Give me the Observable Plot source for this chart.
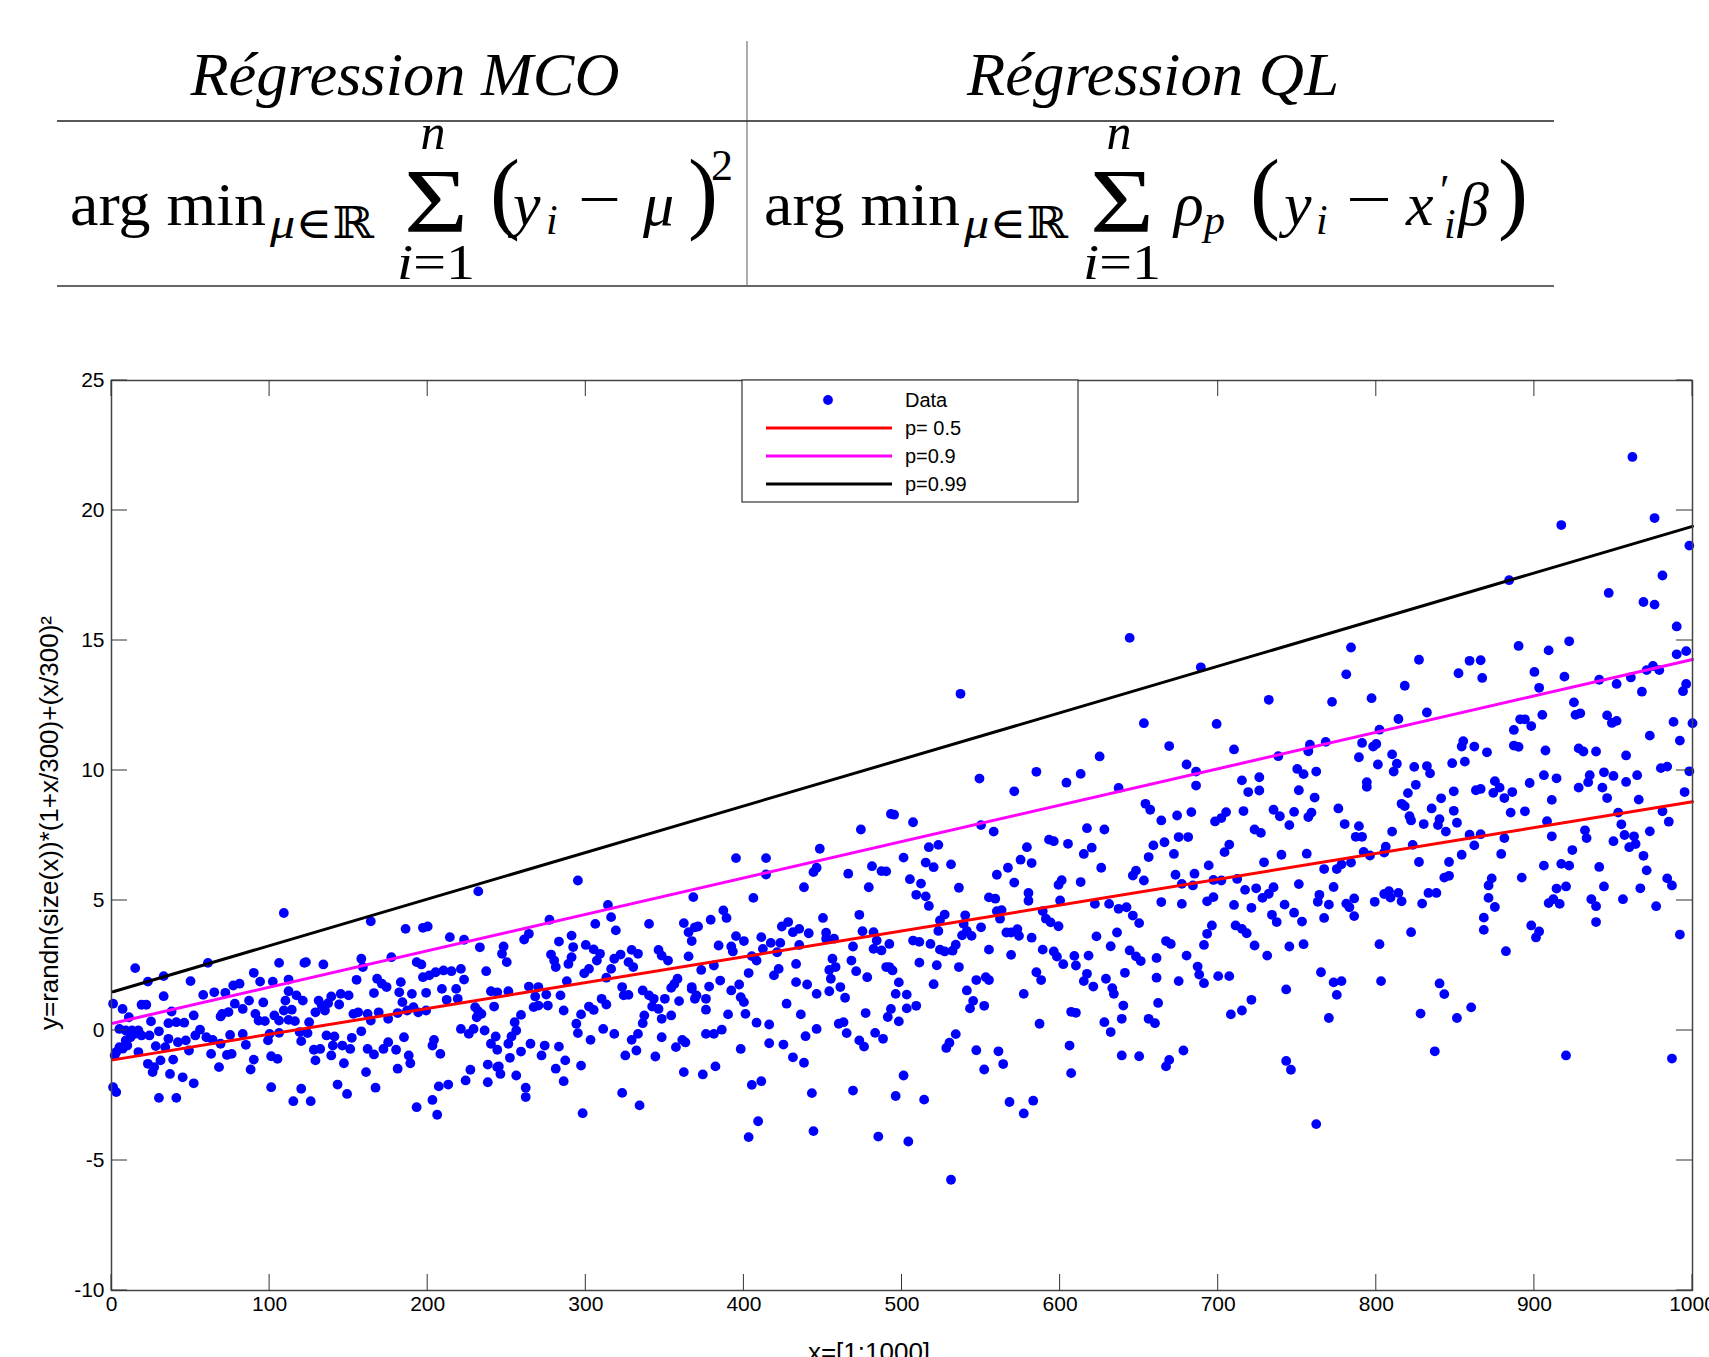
<!DOCTYPE html>
<html><head><meta charset="utf-8">
<script src="https://cdn.jsdelivr.net/npm/d3@7"></script>
<script src="https://cdn.jsdelivr.net/npm/@observablehq/plot@0.6"></script>
<style>
html,body{margin:0;padding:0;background:#fff;overflow:hidden;}
#page{width:1709px;}
svg{display:block;}
</style></head><body><div id="page"></div>
<script>
// ---------- data ----------
const xTicks = [0,100,200,300,400,500,600,700,800,900,1000];
const yTicks = [-10,-5,0,5,10,15,20,25];
const quantX = [1, 1000];
const q50 = [-1.13, 8.80];
const q90 = [0.28, 14.27];
const q99 = [1.49, 19.39];
const legendLabels = ["Data", "p= 0.5", "p=0.9", "p=0.99"];

const band1 = [[109,4.52],[15,2.40],[61,2.60],[106,2.60],[122,2.60],[23,1.88],[33,2.09],[50,1.90],[90,2.22],[94,1.88],[102,1.88],[112,1.96],[33,1.32],[1,1.03],[7,0.83],[11,0.51],[19,0.99],[22,0.99],[38,0.73],[52,0.58],[58,1.37],[65,1.47],[72,1.45],[77,1.73],[81,1.80],[78,1.03],[83,0.83],[87,1.15],[70,0.64],[74,0.71],[69,0.54],[96,1.08],[110,1.15],[112,1.51],[117,1.35],[121,1.15],[114,0.80],[109,0.77],[91,0.64],[93,0.38],[97,0.36],[103,0.58],[106,0.38],[112,0.41],[116,0.36],[25,0.35],[36,0.28],[41,0.32],[46,0.30],[5,0.06],[9,0.00],[13,0.00],[17,0.00],[15,-0.13],[19,-0.19],[24,-0.19],[30,-0.03],[12,-0.26],[9,-0.38],[5,-0.64],[3,-0.83],[7,-0.70],[10,-0.58],[2,-0.96],[36,-0.32],[42,-0.45],[47,-0.38],[49,-0.77],[28,-0.60],[34,-0.64],[53,-0.19],[56,0.03],[60,-0.26],[64,-0.36],[69,-0.51],[63,-0.90],[73,-0.94],[76,-0.90],[75,-0.17],[83,-0.13],[85,-0.55],[99,-0.38],[100,-0.13],[106,-0.09],[119,-0.06],[120,-0.41],[17,-0.83],[23,-1.28],[27,-1.41],[31,-1.15],[26,-1.60],[39,-1.12],[37,-1.67],[45,-1.80],[52,-2.03],[68,-1.41],[90,-1.12],[88,-1.50],[101,-0.99],[105,-1.09],[1,-2.18],[3,-2.37],[30,-2.59],[41,-2.59],[101,-2.18],[115,-2.72],[120,-2.24]];

const band2 = [[232,5.35],[164,4.20],[186,3.91],[197,3.95],[200,4.00],[214,3.59],[223,3.49],[233,3.20],[123,2.63],[134,2.54],[158,2.76],[159,2.44],[177,2.82],[193,2.63],[196,2.54],[155,1.95],[168,1.99],[171,1.80],[174,1.67],[183,1.86],[182,1.47],[190,1.41],[199,1.45],[197,2.05],[201,2.12],[205,2.24],[210,2.31],[215,2.28],[221,2.37],[223,1.96],[218,1.60],[209,1.60],[212,1.18],[219,1.22],[237,2.28],[240,1.51],[166,1.44],[131,1.15],[133,0.96],[139,1.31],[145,1.41],[150,1.35],[144,1.00],[137,1.05],[129,0.70],[135,0.77],[184,1.09],[191,0.90],[153,0.64],[156,0.70],[162,0.64],[164,0.38],[169,0.70],[175,0.45],[181,0.67],[187,0.77],[194,0.70],[199,0.77],[230,0.90],[232,0.74],[234,0.64],[231,0.51],[242,0.92],[125,0.32],[124,-0.10],[136,-0.19],[141,-0.23],[140,-0.58],[146,-0.58],[151,-0.71],[152,-0.28],[158,-0.03],[128,-0.74],[132,-0.71],[129,-1.15],[139,-0.96],[147,-1.26],[162,-0.71],[166,-0.92],[172,-0.71],[175,-0.45],[180,-0.74],[185,-0.26],[188,-0.96],[189,-1.26],[204,-0.36],[203,-0.58],[208,-0.90],[221,0.06],[226,-0.13],[229,0.06],[236,0.00],[243,-0.23],[240,-0.51],[244,-0.74],[161,-1.60],[181,-1.47],[227,-1.51],[238,-1.31],[244,-1.41],[224,-1.92],[238,-1.99],[143,-2.08],[149,-2.44],[167,-2.20],[207,-2.15],[213,-2.08],[126,-2.72],[203,-2.67],[193,-2.95],[206,-3.24]];

const band3 = [[295,5.77],[314,4.83],[316,4.36],[319,3.85],[306,4.10],[277,4.26],[340,4.10],[362,4.13],[365,3.78],[368,5.13],[369,3.97],[367,3.44],[261,3.50],[264,3.72],[291,3.65],[283,3.42],[248,3.23],[247,2.95],[250,2.63],[278,2.92],[280,2.69],[281,2.44],[292,3.21],[291,2.82],[289,2.56],[300,3.29],[305,3.12],[309,2.95],[307,2.69],[302,2.37],[299,2.20],[316,2.37],[318,2.76],[322,2.92],[327,2.63],[330,2.44],[329,3.10],[333,2.95],[346,3.10],[348,2.88],[352,2.69],[365,2.85],[313,2.03],[288,1.90],[264,1.69],[270,1.67],[268,1.31],[275,1.38],[284,1.35],[251,1.51],[244,1.47],[267,0.90],[270,0.96],[276,0.96],[286,0.77],[302,0.92],[305,0.79],[310,1.22],[313,1.00],[323,1.67],[324,1.35],[327,1.37],[336,1.54],[340,1.35],[343,1.22],[342,0.92],[346,0.83],[350,1.22],[354,1.64],[358,1.99],[356,1.79],[359,1.13],[367,1.60],[369,1.22],[354,0.58],[348,0.45],[337,0.58],[336,0.28],[297,0.62],[294,0.26],[295,-0.10],[259,0.60],[255,0.32],[256,0.00],[253,-0.23],[251,-0.51],[265,-0.51],[274,-0.58],[283,-0.62],[272,-0.96],[259,-0.81],[252,-1.05],[245,-1.38],[246,-1.67],[256,-1.73],[281,-1.47],[287,-1.15],[286,-1.95],[297,-1.35],[262,-2.20],[262,-2.56],[303,-0.36],[311,0.06],[318,-0.13],[329,-0.36],[333,-0.13],[332,-0.77],[325,-0.96],[344,-1.00],[348,-0.26],[357,-0.64],[361,-0.36],[363,-0.46],[362,-1.60],[323,-2.40],[334,-2.88],[298,-3.18]];

const band4 = [[474,7.73],[493,8.33],[395,6.63],[414,6.63],[414,6.00],[448,6.99],[446,6.26],[444,6.09],[466,6.03],[481,6.32],[487,6.13],[438,5.51],[479,5.51],[406,5.10],[387,4.62],[389,4.33],[379,4.26],[371,4.00],[384,3.27],[392,3.23],[393,3.04],[395,3.63],[400,3.44],[411,3.59],[412,3.14],[417,3.37],[423,3.37],[421,3.01],[424,4.00],[428,4.17],[431,3.78],[435,3.91],[441,3.74],[435,3.29],[450,4.33],[452,3.76],[452,3.53],[457,3.53],[473,4.45],[475,3.82],[482,3.78],[469,3.23],[482,3.14],[487,3.08],[484,3.46],[405,2.86],[408,2.69],[373,2.33],[381,2.50],[403,2.21],[422,2.37],[419,2.12],[433,2.56],[456,2.76],[454,2.33],[458,2.44],[455,1.99],[468,2.69],[471,2.28],[478,2.05],[490,2.44],[367,1.67],[370,1.35],[376,1.22],[376,0.80],[378,1.69],[385,1.92],[392,1.54],[397,1.77],[398,1.28],[400,1.09],[390,0.62],[401,0.64],[408,0.30],[416,0.23],[427,1.03],[433,1.86],[440,1.77],[446,1.41],[454,1.51],[461,1.67],[464,1.26],[436,0.62],[446,0.06],[439,-0.22],[460,0.26],[463,0.32],[465,-0.10],[477,0.67],[483,-0.09],[488,-0.32],[473,-0.38],[476,-0.62],[376,-0.13],[381,-0.13],[386,0.03],[398,-0.71],[416,-0.49],[425,-0.54],[431,-1.03],[438,-1.24],[374,-1.69],[382,-1.38],[405,-2.09],[411,-1.95],[443,-2.41],[469,-2.31],[409,-3.49],[403,-4.10],[444,-3.87],[485,-4.08]];

const band5 = [[537,12.95],[549,9.69],[585,9.95],[604,9.53],[571,9.20],[495,8.30],[507,8.01],[550,7.90],[558,7.65],[517,7.05],[523,7.14],[501,6.65],[515,6.46],[520,6.28],[531,6.39],[490,6.12],[505,5.82],[512,5.65],[536,5.49],[509,5.22],[515,5.16],[517,4.79],[593,7.34],[596,7.28],[605,7.18],[579,7.05],[575,6.57],[582,6.44],[567,6.26],[560,5.99],[571,5.69],[599,5.60],[601,5.78],[580,5.29],[580,4.99],[600,5.00],[555,5.12],[559,5.07],[560,4.59],[563,4.63],[562,4.30],[589,4.59],[591,4.30],[594,4.16],[599,4.01],[527,4.46],[524,4.23],[540,4.43],[539,4.10],[523,3.83],[541,3.83],[538,3.66],[544,3.64],[550,3.97],[566,3.77],[569,3.77],[573,3.90],[574,3.64],[582,3.57],[492,3.33],[507,3.46],[511,3.41],[518,3.33],[524,3.11],[527,3.04],[534,3.30],[532,3.07],[555,3.11],[569,2.91],[589,3.11],[596,3.04],[598,2.84],[602,2.55],[609,2.87],[610,2.50],[492,2.44],[494,2.31],[511,2.61],[522,2.51],[536,2.44],[585,2.24],[588,1.94],[498,1.85],[496,1.41],[503,1.38],[520,1.78],[547,1.94],[553,2.05],[555,1.94],[541,1.54],[545,1.14],[543,0.85],[552,0.95],[577,1.41],[493,0.83],[491,0.52],[498,0.35],[503,0.85],[509,0.95],[607,0.72],[610,0.68],[587,0.26],[534,-0.14],[530,-0.47],[528,-0.67],[547,-0.76],[561,-0.80],[564,-1.29],[552,-1.50],[606,-0.58],[607,-1.64],[501,-1.73],[496,-2.52],[514,-2.66],[568,-2.75],[583,-2.70],[577,-3.19],[504,-4.27],[531,-5.74]];

const band6 = [[644,15.10],[689,13.97],[732,12.72],[653,11.82],[699,11.79],[669,10.94],[710,10.81],[625,10.54],[613,9.87],[680,10.23],[686,9.96],[686,9.42],[637,9.33],[715,9.62],[726,9.74],[719,9.17],[726,9.23],[654,8.72],[657,8.49],[664,8.08],[674,8.27],[683,8.40],[698,8.04],[702,8.17],[705,8.40],[716,8.44],[735,8.49],[617,7.78],[628,7.73],[620,7.03],[615,6.79],[675,7.44],[681,7.44],[659,7.12],[666,7.24],[672,6.79],[656,6.67],[723,7.73],[727,7.60],[707,7.15],[704,6.86],[729,6.47],[626,6.26],[648,6.15],[646,5.96],[653,5.77],[613,5.71],[673,5.99],[685,6.03],[677,5.64],[684,5.58],[694,6.35],[697,5.79],[702,5.77],[712,5.83],[717,5.41],[724,5.47],[728,5.10],[732,5.26],[735,5.51],[622,4.87],[631,4.87],[637,4.68],[642,4.74],[646,4.42],[650,4.13],[664,4.94],[677,4.87],[693,4.97],[697,5.13],[710,4.83],[721,4.72],[734,4.45],[737,4.17],[696,4.04],[693,3.72],[711,4.04],[715,3.91],[718,3.74],[623,3.62],[636,3.77],[632,3.24],[644,3.08],[648,2.85],[651,2.67],[667,3.44],[670,3.33],[661,2.79],[680,2.88],[691,3.29],[723,3.27],[731,2.88],[618,2.88],[617,2.18],[615,1.90],[621,1.69],[629,1.99],[633,1.63],[634,1.41],[641,2.22],[661,2.03],[675,1.90],[687,2.46],[688,2.15],[691,1.82],[700,2.09],[707,2.09],[640,0.96],[662,1.06],[639,0.45],[628,0.32],[632,-0.06],[656,0.45],[660,0.28],[708,0.62],[715,0.77],[721,1.18],[639,-0.96],[650,-0.99],[669,-1.13],[667,-1.38],[678,-0.77]];

const band7 = [[784,14.73],[827,14.26],[859,14.22],[852,13.74],[781,13.70],[818,13.26],[772,12.64],[797,12.78],[832,12.23],[814,11.98],[802,11.57],[738,10.55],[758,10.99],[757,10.74],[768,11.10],[791,11.06],[798,10.92],[800,11.02],[789,10.51],[810,10.62],[801,10.23],[813,10.26],[811,9.96],[750,10.06],[754,9.86],[762,9.96],[824,10.14],[832,10.17],[834,9.89],[848,10.28],[856,10.34],[855,11.13],[854,10.92],[862,10.92],[751,9.24],[761,8.96],[794,9.37],[794,9.55],[825,9.45],[820,9.13],[816,8.72],[818,8.63],[739,8.24],[748,8.41],[745,7.90],[757,8.21],[759,8.38],[776,8.54],[780,7.94],[789,7.86],[787,7.45],[791,7.45],[821,8.24],[822,8.08],[830,7.94],[835,8.54],[841,8.93],[849,9.20],[840,8.13],[839,7.90],[849,8.45],[851,7.99],[844,7.65],[863,9.24],[810,7.65],[859,7.53],[862,7.12],[792,6.87],[796,6.73],[805,6.84],[806,7.07],[823,7.14],[827,6.48],[846,6.48],[854,6.76],[843,5.88],[846,5.95],[740,6.76],[756,6.80],[767,6.21],[775,6.21],[778,6.39],[784,6.46],[751,5.63],[773,5.52],[764,5.22],[763,4.95],[770,4.84],[742,4.84],[748,4.53],[753,4.19],[767,4.33],[781,4.88],[786,5.08],[783,4.74],[786,4.40],[799,4.95],[805,5.25],[808,5.36],[809,5.11],[814,5.29],[816,4.97],[829,4.88],[833,5.29],[838,5.29],[822,3.78],[745,3.23],[754,3.32],[802,3.32],[765,2.24],[773,1.85],[778,1.90],[775,1.37],[803,1.90],[743,1.58],[840,1.81],[843,1.40],[770,0.48],[828,0.65],[851,0.48],[860,0.89],[837,-0.80],[743,-1.17],[746,-1.51],[762,-3.60]];

const band8 = [[962,22.06],[976,19.71],[917,19.44],[998,18.65],[884,17.32],[981,17.50],[947,16.83],[969,16.48],[976,16.38],[990,15.54],[890,14.79],[909,14.62],[922,14.97],[866,14.24],[867,13.56],[900,13.79],[903,13.18],[919,13.61],[941,13.49],[952,13.33],[961,13.58],[968,13.03],[971,13.86],[975,14.02],[979,13.86],[990,14.47],[996,14.59],[996,13.33],[994,13.05],[925,12.62],[926,12.14],[929,12.20],[905,12.14],[891,11.97],[894,11.97],[898,11.71],[887,11.56],[946,12.12],[949,11.83],[952,11.91],[988,11.87],[1000,11.82],[973,11.34],[992,11.15],[887,10.96],[890,10.91],[870,10.70],[907,10.77],[928,10.85],[931,10.73],[939,10.73],[958,10.58],[980,10.09],[984,10.15],[998,9.97],[866,9.29],[875,9.59],[878,9.34],[874,9.14],[881,8.94],[886,9.17],[897,9.52],[906,9.82],[914,9.70],[911,8.87],[885,8.38],[894,8.43],[928,9.34],[935,9.82],[934,9.55],[943,9.34],[944,9.93],[950,9.79],[946,8.94],[958,9.56],[965,9.82],[966,8.88],[995,9.17],[981,8.43],[985,8.03],[953,8.38],[955,7.93],[908,8.05],[866,7.55],[881,7.40],[879,6.79],[911,7.47],[932,7.70],[933,7.40],[924,6.94],[950,7.28],[957,7.52],[960,7.05],[963,7.47],[964,7.17],[969,6.72],[973,7.66],[971,6.16],[906,6.34],[917,6.41],[922,6.34],[941,6.29],[873,5.85],[871,5.58],[892,5.88],[914,5.46],[920,5.54],[944,5.54],[967,5.47],[984,5.85],[987,5.58],[871,5.10],[875,4.75],[909,4.90],[912,5.05],[916,4.87],[936,5.05],[939,4.78],[956,5.05],[977,4.78],[868,4.34],[868,3.87],[939,4.17],[898,4.04],[903,3.81],[901,3.58],[992,3.69],[882,3.05],[920,-0.96],[987,-1.08]];

// ---------- build ----------
(function () {
const W = 1709;
const page = d3.select("#page");

// Header table (text)
const head = page.append("svg").attr("width", W).attr("height", 300);
const SERIF = "Liberation Serif, DejaVu Serif, serif";
function txt(parts, x, y, o = {}) {
  const t = head.append("text").attr("x", x).attr("y", y)
    .attr("font-family", SERIF).attr("font-size", o.fs || 62)
    .attr("text-anchor", o.anchor || "start").attr("fill", "#000");
  (Array.isArray(parts) ? parts : [[parts, o.italic]]).forEach(([s, it]) => {
    t.append("tspan").attr("font-style", it ? "italic" : "normal").text(s);
  });
  if (o.tl) t.attr("textLength", o.tl).attr("lengthAdjust", "spacingAndGlyphs");
  return t;
}
head.append("line").attr("x1", 747).attr("x2", 747).attr("y1", 41).attr("y2", 286).attr("stroke", "#777").attr("stroke-width", 1.2);
head.append("line").attr("x1", 57).attr("x2", 1554).attr("y1", 121).attr("y2", 121).attr("stroke", "#222").attr("stroke-width", 1.4);
head.append("line").attr("x1", 57).attr("x2", 1554).attr("y1", 286).attr("y2", 286).attr("stroke", "#666").attr("stroke-width", 2);

txt("Régression MCO", 405, 95, {italic: true, anchor: "middle", fs: 62, tl: 429});
txt("Régression QL", 1153, 95, {italic: true, anchor: "middle", fs: 62, tl: 372});

function formulaHead(x0, sumX) {
  txt("arg min", x0, 225, {fs: 62, tl: 196});
  txt([["μ", true], ["∈ℝ", false]], x0 + 200, 238, {fs: 44, tl: 104});
  txt("Σ", sumX, 232, {fs: 92, anchor: "middle", tl: 64});
  txt("n", sumX - 3, 149, {fs: 50, italic: true, anchor: "middle"});
  txt([["i", true], ["=1", false]], sumX, 279, {fs: 50, anchor: "middle", tl: 78});
}
formulaHead(70, 436);
txt("(", 490, 222, {fs: 90});
txt("y", 513, 225, {fs: 62, italic: true});
txt("i", 546, 234, {fs: 42, italic: true});
txt("−", 578, 220, {fs: 62, tl: 43});
txt("μ", 643, 225, {fs: 62, italic: true});
txt(")", 688, 222, {fs: 90});
txt("2", 711, 180, {fs: 44});
formulaHead(764, 1122);
txt("ρ", 1174, 225, {fs: 62, italic: true});
txt("p", 1204, 234, {fs: 42, italic: true});
txt("(", 1250, 222, {fs: 90});
txt("y", 1284, 225, {fs: 62, italic: true});
txt("i", 1316, 234, {fs: 42, italic: true});
txt("−", 1346, 220, {fs: 62, tl: 46});
txt("x", 1406, 225, {fs: 62, italic: true});
txt("′", 1440, 205, {fs: 44});
txt("i", 1444, 238, {fs: 42, italic: true});
txt("β", 1458, 225, {fs: 62, italic: true});
txt(")", 1498, 222, {fs: 90});

// Scatter plot
const points = [...band1, ...band2, ...band3, ...band4, ...band5, ...band6, ...band7, ...band8].map(([x, y]) => ({x, y}));
const mkLine = ys => quantX.map((x, i) => ({x, y: ys[i]}));
const fmt = d => String(d);

const H = 1057, mT = 80, mB = 67, mL = 111, mR = 17;
const plot = Plot.plot({
  width: W, height: H,
  marginTop: mT, marginBottom: mB, marginLeft: mL, marginRight: mR,
  style: {fontFamily: "Liberation Sans, Arial, sans-serif", fontSize: "21px", color: "#000", background: "#fff", overflow: "hidden", maxWidth: "none"},
  x: {domain: [0, 1000], label: null},
  y: {domain: [-10, 25], label: null},
  marks: [
    Plot.dot(points, {x: "x", y: "y", r: 4.9, fill: "#0000ff", stroke: null}),
    Plot.line(mkLine(q50), {x: "x", y: "y", stroke: "#ff0000", strokeWidth: 3}),
    Plot.line(mkLine(q90), {x: "x", y: "y", stroke: "#ff00ff", strokeWidth: 3}),
    Plot.line(mkLine(q99), {x: "x", y: "y", stroke: "#000000", strokeWidth: 3}),
    Plot.frame({stroke: "#444", strokeWidth: 1.5}),
    Plot.axisX(xTicks, {tickSize: 0, tickPadding: 6, tickFormat: fmt, label: null, fontSize: 21}),
    Plot.axisY(yTicks, {tickSize: 0, tickPadding: 7, tickFormat: fmt, label: null, fontSize: 21})
  ]
});
page.node().appendChild(plot);

const sx = plot.scale("x"), sy = plot.scale("y");
const svg = d3.select(plot);
const fTop = mT, fBottom = H - mB, fLeft = mL, fRight = W - mR;
const tg = svg.append("g").attr("stroke", "#333").attr("stroke-width", 1);
xTicks.forEach(v => {
  const px = sx.apply(v);
  tg.append("line").attr("x1", px).attr("x2", px).attr("y1", fBottom).attr("y2", fBottom - 16);
  tg.append("line").attr("x1", px).attr("x2", px).attr("y1", fTop).attr("y2", fTop + 16);
});
yTicks.forEach(v => {
  const py = sy.apply(v);
  tg.append("line").attr("x1", fLeft).attr("x2", fLeft + 16).attr("y1", py).attr("y2", py);
  tg.append("line").attr("x1", fRight).attr("x2", fRight - 16).attr("y1", py).attr("y2", py);
});

svg.append("text").attr("transform", "translate(58,523) rotate(-90)")
  .attr("text-anchor", "middle").attr("font-family", "Liberation Sans, Arial, sans-serif")
  .attr("font-size", 26).attr("fill", "#000")
  .text("y=randn(size(x))*(1+x/300)+(x/300)²");
svg.append("text").attr("x", 869).attr("y", 1061)
  .attr("text-anchor", "middle").attr("font-family", "Liberation Sans, Arial, sans-serif")
  .attr("font-size", 26).attr("fill", "#000").text("x=[1:1000]");

const lg = svg.append("g").attr("font-family", "Liberation Sans, Arial, sans-serif").attr("font-size", 20).attr("text-anchor", "start");
lg.append("rect").attr("x", 742).attr("y", fTop).attr("width", 336).attr("height", 122)
  .attr("fill", "#fff").attr("stroke", "#333").attr("stroke-width", 1.2);
lg.append("circle").attr("cx", 828).attr("cy", 100).attr("r", 4.9).attr("fill", "#0000ff");
const legColors = ["#ff0000", "#ff00ff", "#000000"];
const rowsY = [100, 128, 156, 184];
legendLabels.forEach((s, i) => {
  lg.append("text").attr("x", 905).attr("y", rowsY[i] + 7).attr("text-anchor", "start").attr("fill", "#000").text(s);
  if (i > 0) lg.append("line").attr("x1", 766).attr("x2", 892).attr("y1", rowsY[i]).attr("y2", rowsY[i])
    .attr("stroke", legColors[i - 1]).attr("stroke-width", 3);
});
})();
</script></body></html>
